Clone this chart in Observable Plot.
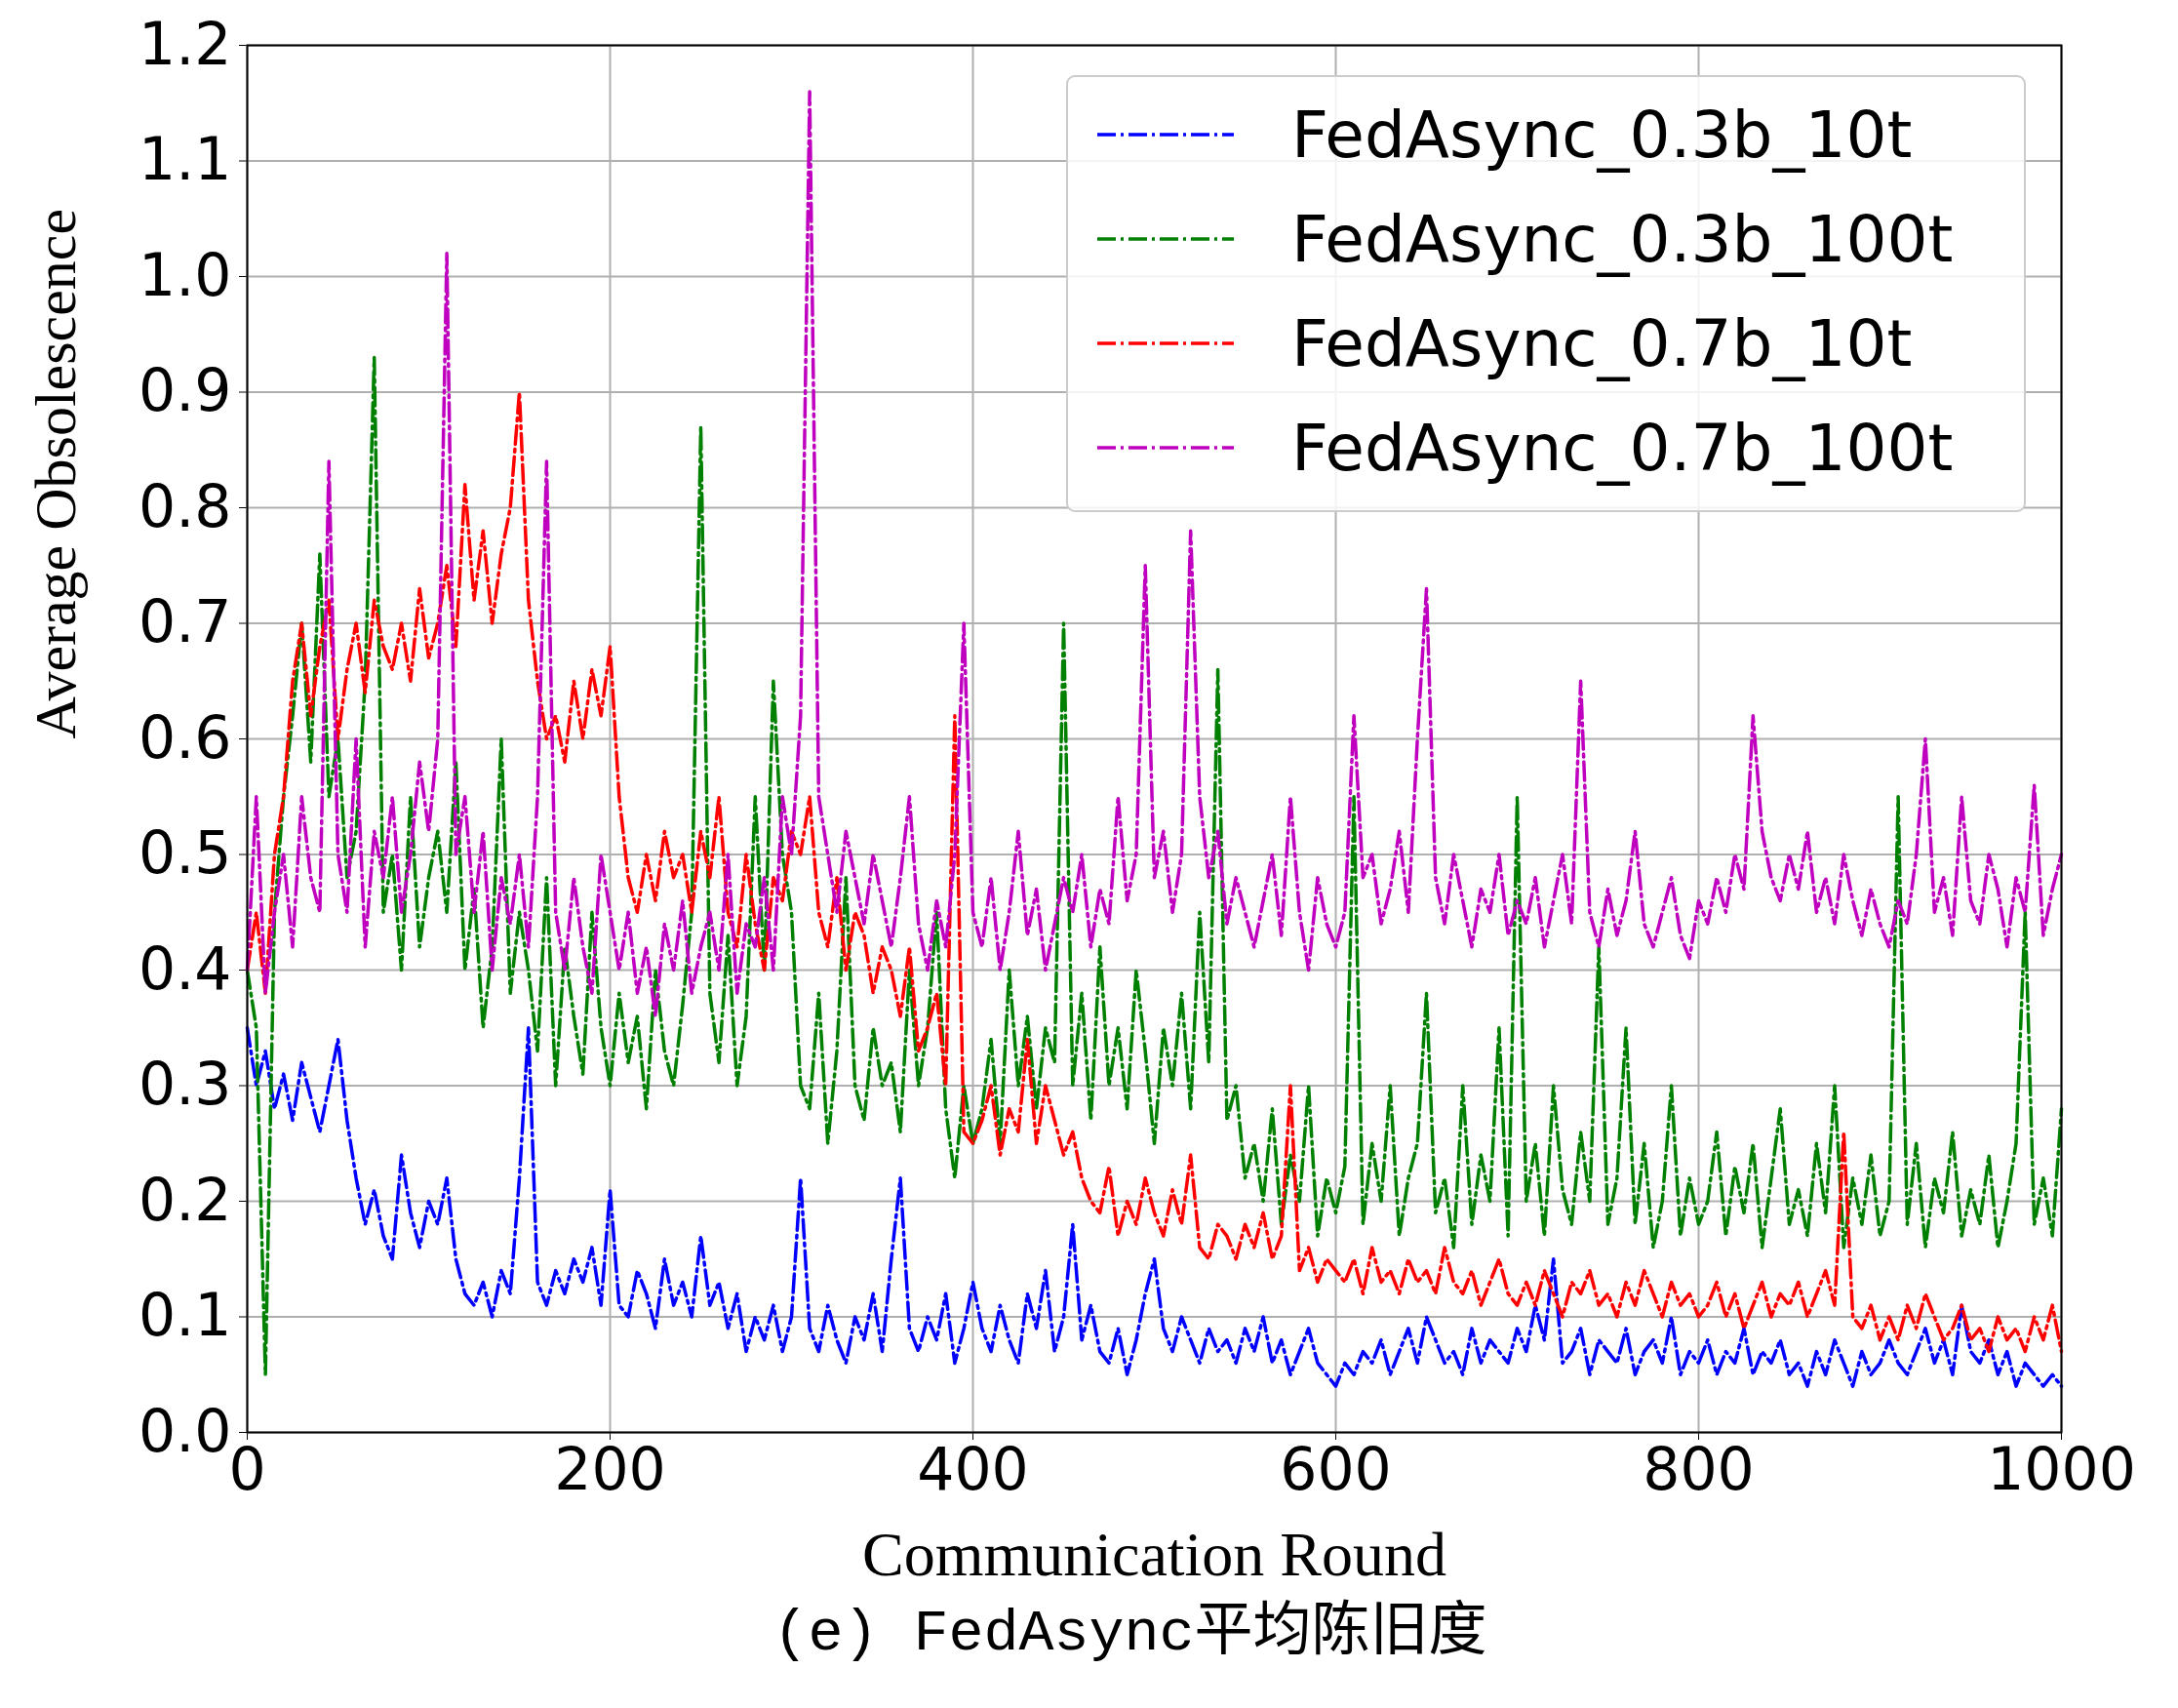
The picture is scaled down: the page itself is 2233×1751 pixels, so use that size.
<!DOCTYPE html>
<html lang="zh">
<head>
<meta charset="utf-8">
<title>FedAsync平均陈旧度</title>
<script src="https://cdn.jsdelivr.net/npm/d3@7"></script>
<script src="https://cdn.jsdelivr.net/npm/@observablehq/plot@0.6"></script>
<style>
  body { margin: 0; background: #fff; }
</style>
</head>
<body>
<div id="graphic"></div>
<script>
// one value every 5 rounds, 0..1000
const rounds = d3.range(0, 1001, 5);

const names = ["FedAsync_0.3b_10t", "FedAsync_0.3b_100t", "FedAsync_0.7b_10t", "FedAsync_0.7b_100t"];
const colors = ["#0000ff", "#008000", "#ff0000", "#bf00bf"];

const blue = [0.35,0.30,0.33,0.28,0.31,0.27,0.32,0.29,0.26,0.30,0.34,
0.27,0.22,0.18,0.21,0.17,0.15,0.24,0.19,0.16,0.20,
0.18,0.22,0.15,0.12,0.11,0.13,0.10,0.14,0.12,0.22,
0.35,0.13,0.11,0.14,0.12,0.15,0.13,0.16,0.11,0.21,
0.11,0.10,0.14,0.12,0.09,0.15,0.11,0.13,0.10,0.17,
0.11,0.13,0.09,0.12,0.07,0.10,0.08,0.11,0.07,0.10,
0.22,0.09,0.07,0.11,0.08,0.06,0.10,0.08,0.12,0.07,
0.15,0.22,0.09,0.07,0.10,0.08,0.12,0.06,0.09,0.13,
0.09,0.07,0.11,0.08,0.06,0.12,0.09,0.14,0.07,0.10,
0.18,0.08,0.11,0.07,0.06,0.09,0.05,0.08,0.12,0.15,
0.09,0.07,0.10,0.08,0.06,0.09,0.07,0.08,0.06,0.09,
0.07,0.10,0.06,0.08,0.05,0.07,0.09,0.06,0.05,0.04,
0.06,0.05,0.07,0.06,0.08,0.05,0.07,0.09,0.06,0.10,
0.08,0.06,0.07,0.05,0.09,0.06,0.08,0.07,0.06,0.09,
0.07,0.11,0.08,0.15,0.06,0.07,0.09,0.05,0.08,0.07,
0.06,0.09,0.05,0.07,0.08,0.06,0.10,0.05,0.07,0.06,
0.08,0.05,0.07,0.06,0.09,0.05,0.07,0.06,0.08,0.05,
0.06,0.04,0.07,0.05,0.08,0.06,0.04,0.07,0.05,0.06,
0.08,0.06,0.05,0.07,0.09,0.06,0.08,0.05,0.11,0.07,
0.06,0.08,0.05,0.07,0.04,0.06,0.05,0.04,0.05,0.04];

const green = [0.40,0.35,0.05,0.45,0.55,0.62,0.70,0.58,0.76,0.55,0.60,
0.48,0.52,0.65,0.93,0.45,0.50,0.40,0.55,0.42,0.48,
0.52,0.45,0.58,0.40,0.47,0.35,0.42,0.60,0.38,0.45,
0.40,0.33,0.48,0.30,0.42,0.36,0.31,0.45,0.35,0.30,
0.38,0.32,0.36,0.28,0.40,0.33,0.30,0.37,0.45,0.87,
0.38,0.32,0.43,0.30,0.36,0.55,0.40,0.65,0.50,0.45,
0.30,0.28,0.38,0.25,0.33,0.48,0.30,0.27,0.35,0.30,
0.32,0.26,0.40,0.30,0.35,0.45,0.28,0.22,0.30,0.25,
0.28,0.34,0.25,0.40,0.30,0.36,0.28,0.35,0.32,0.70,
0.30,0.38,0.27,0.42,0.30,0.35,0.28,0.40,0.33,0.25,
0.35,0.30,0.38,0.28,0.45,0.32,0.66,0.27,0.30,0.22,
0.25,0.20,0.28,0.18,0.24,0.20,0.30,0.17,0.22,0.19,
0.23,0.55,0.18,0.25,0.20,0.30,0.17,0.22,0.25,0.38,
0.19,0.22,0.16,0.30,0.18,0.24,0.20,0.35,0.17,0.55,
0.20,0.25,0.17,0.30,0.21,0.18,0.26,0.20,0.42,0.18,
0.22,0.35,0.18,0.25,0.16,0.20,0.30,0.17,0.22,0.18,
0.20,0.26,0.17,0.23,0.19,0.25,0.16,0.22,0.28,0.18,
0.21,0.17,0.25,0.19,0.30,0.16,0.22,0.18,0.24,0.17,
0.20,0.55,0.18,0.25,0.16,0.22,0.19,0.26,0.17,0.21,
0.18,0.24,0.16,0.20,0.25,0.45,0.18,0.22,0.17,0.28];

const red = [0.40,0.45,0.38,0.50,0.55,0.65,0.70,0.62,0.68,0.72,0.60,
0.66,0.70,0.64,0.72,0.68,0.66,0.70,0.65,0.73,0.67,
0.70,0.75,0.68,0.82,0.72,0.78,0.70,0.76,0.80,0.90,
0.72,0.65,0.60,0.62,0.58,0.65,0.60,0.66,0.62,0.68,
0.55,0.48,0.45,0.50,0.46,0.52,0.48,0.50,0.45,0.52,
0.48,0.55,0.45,0.42,0.50,0.44,0.40,0.48,0.46,0.52,
0.50,0.55,0.45,0.42,0.48,0.40,0.45,0.43,0.38,0.42,
0.40,0.36,0.42,0.33,0.35,0.38,0.30,0.62,0.26,0.25,
0.27,0.30,0.24,0.28,0.26,0.34,0.25,0.30,0.27,0.24,
0.26,0.22,0.20,0.19,0.23,0.17,0.20,0.18,0.22,0.19,
0.17,0.21,0.18,0.24,0.16,0.15,0.18,0.17,0.15,0.18,
0.16,0.19,0.15,0.17,0.30,0.14,0.16,0.13,0.15,0.14,
0.13,0.15,0.12,0.16,0.13,0.14,0.12,0.15,0.13,0.14,
0.12,0.16,0.13,0.12,0.14,0.11,0.13,0.15,0.12,0.11,
0.13,0.11,0.14,0.12,0.10,0.13,0.12,0.14,0.11,0.12,
0.10,0.13,0.11,0.14,0.12,0.10,0.13,0.11,0.12,0.10,
0.11,0.13,0.10,0.12,0.09,0.11,0.13,0.10,0.12,0.11,
0.13,0.10,0.12,0.14,0.11,0.26,0.10,0.09,0.11,0.08,
0.10,0.08,0.11,0.09,0.12,0.10,0.08,0.09,0.11,0.08,
0.09,0.07,0.10,0.08,0.09,0.07,0.10,0.08,0.11,0.07];

const magenta = [0.40,0.55,0.38,0.45,0.50,0.42,0.55,0.48,0.45,0.84,0.50,
0.45,0.60,0.42,0.52,0.48,0.55,0.45,0.50,0.58,0.52,
0.60,1.02,0.50,0.55,0.45,0.52,0.40,0.48,0.44,0.50,
0.42,0.55,0.84,0.45,0.40,0.48,0.42,0.38,0.50,0.45,
0.40,0.45,0.38,0.42,0.36,0.44,0.40,0.46,0.38,0.42,
0.45,0.40,0.50,0.38,0.44,0.42,0.48,0.40,0.55,0.50,
0.62,1.16,0.55,0.50,0.45,0.52,0.48,0.44,0.50,0.46,
0.42,0.48,0.55,0.44,0.40,0.46,0.42,0.50,0.70,0.45,
0.42,0.48,0.40,0.45,0.52,0.43,0.47,0.40,0.44,0.48,
0.45,0.50,0.42,0.47,0.44,0.55,0.46,0.50,0.75,0.48,
0.52,0.45,0.50,0.78,0.55,0.48,0.52,0.44,0.48,0.45,
0.42,0.46,0.50,0.43,0.55,0.45,0.40,0.48,0.44,0.42,
0.45,0.62,0.48,0.50,0.44,0.47,0.52,0.45,0.60,0.73,
0.48,0.44,0.50,0.46,0.42,0.47,0.45,0.50,0.43,0.46,
0.44,0.48,0.42,0.46,0.50,0.44,0.65,0.45,0.42,0.47,
0.43,0.46,0.52,0.44,0.42,0.45,0.48,0.43,0.41,0.46,
0.44,0.48,0.45,0.50,0.47,0.62,0.52,0.48,0.46,0.50,
0.47,0.52,0.45,0.48,0.44,0.50,0.46,0.43,0.47,0.44,
0.42,0.46,0.44,0.50,0.60,0.45,0.48,0.43,0.55,0.46,
0.44,0.50,0.47,0.42,0.48,0.45,0.56,0.43,0.47,0.50];

const yTicks = [0, 0.1, 0.2, 0.3, 0.4, 0.5, 0.6, 0.7, 0.8, 0.9, 1.0, 1.1, 1.2];
const xTicks = [0, 200, 400, 600, 800, 1000];

const seriesValues = [blue, green, red, magenta];
const dash = "19,5,3,5";

const lineMarks = seriesValues.map((vals, i) =>
  Plot.line(rounds.map((r, j) => ({round: r, value: vals[j]})),
    {x: "round", y: "value", stroke: colors[i], strokeWidth: 3.5, strokeDasharray: dash})
);

const serif = "'Liberation Serif', 'Times New Roman', serif";

const chart = Plot.plot({
  width: 2233,
  height: 1751,
  marginLeft: 253,
  marginRight: 120,
  marginTop: 46,
  marginBottom: 283,
  style: {fontFamily: "'DejaVu Sans', sans-serif", fontSize: "60px", color: "#000", background: "#fff"},
  x: {domain: [0, 1000], ticks: xTicks, tickFormat: d3.format("d"), tickSize: 8, tickPadding: 8, label: null},
  y: {domain: [0, 1.2], ticks: yTicks, tickFormat: d3.format(".1f"), tickSize: 8, tickPadding: 8, label: null},
  marks: [
    Plot.gridX(xTicks, {stroke: "#b0b0b0", strokeOpacity: 1, strokeWidth: 2}),
    Plot.gridY(yTicks, {stroke: "#b0b0b0", strokeOpacity: 1, strokeWidth: 2}),
    ...lineMarks,
    Plot.frame({stroke: "#000", strokeWidth: 2}),
    Plot.text(["Average Obsolescence"], {frameAnchor: "left", rotate: -90, dx: -196,
      fontFamily: serif, fontSize: 60}),
    Plot.text(["Communication Round"], {frameAnchor: "bottom", dy: 146,
      fontFamily: serif, fontSize: 64}),
    Plot.text(["(e) FedAsync平均陈旧度"], {frameAnchor: "bottom", dy: 222, dx: -25,
      fontFamily: "'Liberation Mono', 'Noto Sans CJK SC', monospace", fontSize: 60})
  ]
});

// legend box, top right inside the frame
const svg = d3.select(chart);
const lg = svg.append("g").attr("text-anchor", "start");
lg.append("rect").attr("x", 1094).attr("y", 78).attr("width", 982).attr("height", 446)
  .attr("rx", 8).attr("fill", "#fff").attr("fill-opacity", 0.85)
  .attr("stroke", "#cccccc").attr("stroke-width", 2);
names.forEach((n, i) => {
  const y = 138 + i * 107;
  lg.append("line").attr("x1", 1125).attr("x2", 1265).attr("y1", y).attr("y2", y)
    .attr("stroke", colors[i]).attr("stroke-width", 3.5).attr("stroke-dasharray", dash);
  lg.append("text").attr("x", 1324).attr("y", y).attr("dy", "0.35em")
    .attr("text-anchor", "start")
    .attr("font-size", 66).attr("font-family", "'DejaVu Sans', sans-serif").text(n);
});

document.getElementById("graphic").appendChild(chart);
</script>
</body>
</html>
